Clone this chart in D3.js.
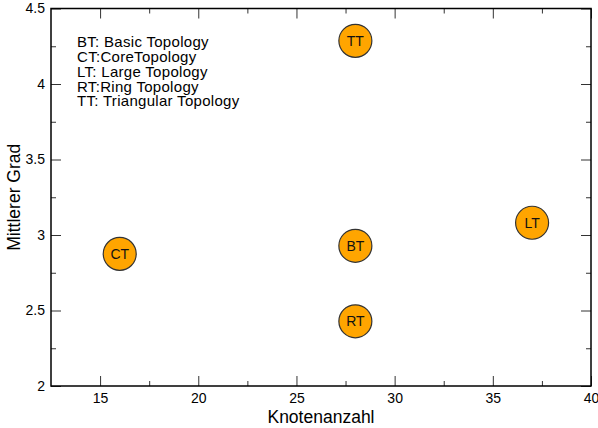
<!DOCTYPE html>
<html>
<head>
<meta charset="utf-8">
<script src="https://cdn.jsdelivr.net/npm/d3@7"></script>
<style>
  html, body { margin: 0; padding: 0; background: #fff; }
  svg { display: block; font-family: "Liberation Sans", Arial, Helvetica, sans-serif; }
</style>
</head>
<body>
<svg id="chart" width="598" height="428"></svg>
<script>
// Topologies: node count vs. mean degree
const codes = ["TT", "BT", "RT", "LT", "CT"];
const nodes = [28, 28, 28, 37, 16];
const meanDegree = [4.2857, 2.9286, 2.4286, 3.0811, 2.875];

const legendLines = [
  "BT: Basic Topology",
  "CT:CoreTopology",
  "LT: Large Topology",
  "RT:Ring Topology",
  "TT: Triangular Topology"
];

const xMajor = [15, 20, 25, 30, 35, 40];
const xMinor = [17.5, 22.5, 27.5, 32.5, 37.5];
const yMajor = [2, 2.5, 3, 3.5, 4, 4.5];
const yMinor = [2.25, 2.75, 3.25, 3.75, 4.25];

const svg = d3.select("#chart");
const margin = { left: 51, right: 7, top: 8.5, bottom: 42 };
const W = 598, H = 428;
const x = d3.scaleLinear().domain([12.5, 40]).range([margin.left, W - margin.right]);
const y = d3.scaleLinear().domain([2, 4.5]).range([H - margin.bottom, margin.top]);

const x0 = x.range()[0], x1 = x.range()[1];
const y0 = y.range()[0], y1 = y.range()[1];

// Axes with inward ticks on all four sides
function axisGroup(axis, tx, ty) {
  const g = svg.append("g").attr("transform", `translate(${tx},${ty})`).call(axis);
  g.select(".domain").remove();
  g.selectAll(".tick line").attr("stroke", "#333").attr("stroke-width", 1);
  return g;
}
const fmt = d3.format("~g");

// bottom
axisGroup(d3.axisBottom(x).tickValues(xMajor).tickSizeInner(-10).tickSizeOuter(0).tickPadding(7).tickFormat(fmt), 0, y0)
  .selectAll("text").attr("font-size", 14).attr("fill", "#000").attr("font-family", "Liberation Sans, Arial, sans-serif");
axisGroup(d3.axisBottom(x).tickValues(xMinor).tickSizeInner(-5).tickSizeOuter(0).tickFormat(""), 0, y0);
// top
axisGroup(d3.axisTop(x).tickValues(xMajor).tickSizeInner(-10).tickSizeOuter(0).tickFormat(""), 0, y1);
axisGroup(d3.axisTop(x).tickValues(xMinor).tickSizeInner(-5).tickSizeOuter(0).tickFormat(""), 0, y1);
// left
axisGroup(d3.axisLeft(y).tickValues(yMajor).tickSizeInner(-10).tickSizeOuter(0).tickPadding(6).tickFormat(fmt), x0, 0)
  .selectAll("text").attr("font-size", 14).attr("fill", "#000").attr("font-family", "Liberation Sans, Arial, sans-serif");
axisGroup(d3.axisLeft(y).tickValues(yMinor).tickSizeInner(-5).tickSizeOuter(0).tickFormat(""), x0, 0);
// right
axisGroup(d3.axisRight(y).tickValues(yMajor).tickSizeInner(-10).tickSizeOuter(0).tickFormat(""), x1, 0);
axisGroup(d3.axisRight(y).tickValues(yMinor).tickSizeInner(-5).tickSizeOuter(0).tickFormat(""), x1, 0);

// Frame
svg.append("rect")
  .attr("x", x0).attr("y", y1)
  .attr("width", x1 - x0).attr("height", y0 - y1)
  .attr("fill", "none").attr("stroke", "#000").attr("stroke-width", 1.5);

// Axis titles
svg.append("text")
  .attr("x", (x0 + x1) / 2).attr("y", 423)
  .attr("text-anchor", "middle").attr("font-size", 17.5)
  .text("Knotenanzahl");
svg.append("text")
  .attr("transform", `translate(20,${(y0 + y1) / 2}) rotate(-90)`)
  .attr("text-anchor", "middle").attr("font-size", 17.5)
  .text("Mittlerer Grad");

// Legend text
svg.append("g").selectAll("text").data(legendLines).join("text")
  .attr("x", 77)
  .attr("y", (d, i) => 47.3 + i * 14.75)
  .attr("font-size", 15)
  .attr("letter-spacing", 0.3)
  .text(d => d);

// Points
const pts = svg.append("g").selectAll("g").data(codes).join("g")
  .attr("transform", (d, i) => `translate(${x(nodes[i])},${y(meanDegree[i])})`);
pts.append("circle")
  .attr("r", 16.5)
  .attr("fill", "#FFA500")
  .attr("stroke", "#333")
  .attr("stroke-width", 1.2);
pts.append("text")
  .attr("text-anchor", "middle")
  .attr("dy", "0.36em")
  .attr("font-size", 14)
  .attr("fill", "#111")
  .text(d => d);
</script>
</body>
</html>
